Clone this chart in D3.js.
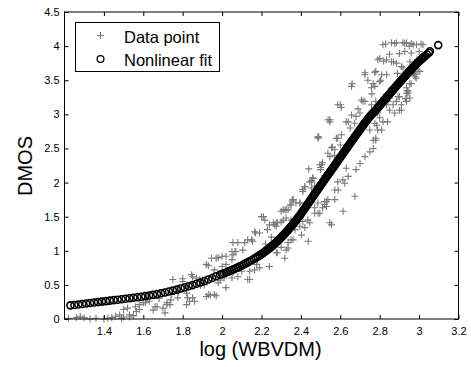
<!DOCTYPE html>
<html>
<head>
<meta charset="utf-8">
<script src="https://cdn.jsdelivr.net/npm/d3@7"></script>
<style>
  html, body { margin: 0; padding: 0; background: #fff; }
  svg { display: block; }
  text { font-family: "Liberation Sans", Arial, sans-serif; fill: #000; }
</style>
</head>
<body>
<svg id="chart" width="471" height="367"></svg>
<script>
// ---------- data ----------
const xTicks = [1.4, 1.6, 1.8, 2, 2.2, 2.4, 2.6, 2.8, 3, 3.2];
const yTicks = [0, 0.5, 1, 1.5, 2, 2.5, 3, 3.5, 4, 4.5];
const xLabel = "log (WBVDM)";
const yLabel = "DMOS";
const legendLabels = ["Data point", "Nonlinear fit"];

// Data points [log(WBVDM), DMOS]
const dataPoints = [
  [1.22,0.01],[1.26,0.02],[1.28,0.04],[1.30,0.02],[1.33,0.00],[1.36,0.01],[1.40,0.00],[1.42,0.01],
  [1.44,0.02],[1.46,0.04],[1.49,0.01],[1.50,0.03],[1.53,0.03],[1.55,0.05],[1.48,0.06],[1.50,0.14],
  [1.52,0.16],[1.53,0.06],[1.56,0.18],[1.565,0.11],[1.58,0.14],[1.58,0.21],[1.60,0.24],[1.61,0.24],
  [1.63,0.26],[1.65,0.13],[1.66,0.18],[1.67,0.18],[1.70,0.16],[1.71,0.09],[1.72,0.21],[1.72,0.24],
  [1.735,0.21],[1.74,0.28],[1.745,0.36],[1.75,0.58],[1.775,0.31],[1.80,0.59],[1.80,0.55],[1.82,0.48],
  [1.82,0.38],[1.825,0.31],[1.82,0.21],[1.835,0.26],[1.845,0.65],[1.85,0.62],[1.85,0.31],[1.86,0.26],
  [1.87,0.60],[1.887,0.58],[1.89,0.49],[1.91,0.50],[1.92,0.33],[1.93,0.36],[1.92,0.80],[1.93,0.78],
  [1.94,0.35],[1.946,0.89],[1.96,0.72],[1.96,0.36],[1.97,0.89],[1.97,0.34],[1.98,0.90],[1.98,0.53],
  [1.99,0.57],[2.00,0.92],[2.00,0.77],[2.01,0.60],[2.02,0.80],[2.02,0.92],[2.02,0.46],[2.05,0.87],
  [2.05,0.99],[2.055,1.12],[2.055,0.94],[2.05,0.60],[2.055,0.68],[2.065,0.99],[2.07,0.99],[2.08,1.12],
  [2.08,0.62],[2.10,0.70],[2.105,1.01],[2.115,1.12],[2.13,1.16],[2.13,0.58],[2.14,0.70],[2.14,0.58],
  [2.15,1.16],[2.155,1.14],[2.165,1.28],[2.165,0.72],[2.17,1.26],[2.175,0.80],[2.18,0.87],[2.19,1.26],
  [2.19,0.75],[2.20,1.50],[2.21,1.50],[2.217,1.45],[2.23,1.31],[2.24,1.38],[2.24,0.77],[2.26,1.41],
  [2.267,1.38],[2.275,1.41],[2.275,1.36],[2.275,0.97],[2.28,1.41],[2.28,0.97],[2.30,1.05],[2.31,1.60],
  [2.31,1.45],[2.318,0.89],[2.32,1.60],[2.325,1.01],[2.325,1.48],[2.335,1.60],[2.335,1.12],[2.335,1.04],
  [2.345,1.67],[2.35,1.16],[2.35,1.67],[2.36,1.75],[2.36,1.16],[2.37,1.31],[2.375,1.70],[2.395,1.70],
  [2.395,1.36],[2.403,1.23],[2.41,1.87],[2.41,1.43],[2.42,1.94],[2.42,1.34],[2.435,1.45],[2.437,1.14],
  [2.445,1.41],[2.445,2.01],[2.454,2.01],[2.454,1.92],[2.46,2.07],[2.47,1.63],[2.47,1.55],[2.486,2.67],
  [2.486,1.70],[2.49,2.67],[2.496,2.26],[2.496,1.55],[2.50,2.19],[2.51,2.29],[2.51,1.63],[2.52,1.72],
  [2.53,1.72],[2.537,2.43],[2.537,1.75],[2.547,2.89],[2.547,2.92],[2.547,1.41],[2.555,2.51],[2.555,1.38],
  [2.572,1.89],[2.58,2.65],[2.587,2.01],[2.587,3.14],[2.587,2.65],[2.60,3.14],[2.606,2.70],[2.613,2.04],
  [2.614,1.58],[2.63,2.21],[2.63,2.89],[2.64,2.89],[2.657,3.41],[2.657,2.99],[2.673,2.87],[2.674,1.80],
  [2.68,2.97],[2.70,3.02],[2.707,3.21],[2.715,3.19],[2.725,3.19],[2.725,3.61],[2.725,3.58],[2.75,2.77],
  [2.758,3.39],[2.758,3.14],[2.767,2.62],[2.767,3.45],[2.775,3.41],[2.775,3.61],[2.775,2.87],[2.78,3.63],
  [2.78,3.19],[2.78,2.65],[2.785,2.84],[2.79,3.80],[2.79,3.02],[2.80,3.48],[2.80,3.82],[2.80,2.95],
  [2.805,3.50],[2.81,3.58],[2.81,2.77],[2.816,4.02],[2.83,4.03],[2.835,3.80],[2.835,3.58],[2.835,3.14],
  [2.84,2.89],[2.85,3.06],[2.85,3.24],[2.86,4.05],[2.86,3.77],[2.868,3.14],[2.87,3.77],[2.876,3.02],
  [2.876,4.04],[2.885,4.05],[2.885,3.75],[2.885,3.19],[2.90,3.89],[2.90,3.06],[2.90,3.26],[2.91,3.14],
  [2.918,4.05],[2.918,3.68],[2.927,3.92],[2.927,4.04],[2.936,4.05],[2.936,3.39],[2.943,3.31],[2.944,3.33],
  [2.953,3.24],[2.953,3.45],[2.953,3.77],[2.97,4.02],[2.97,3.60],[2.978,3.58],[2.985,3.53],[2.987,4.02],
  [2.995,3.63],[3.004,3.63],[3.02,4.02],[3.01,4.03],[2.96,4.04],[2.95,4.00],[2.80,3.11],[2.843,3.19],
  [2.893,3.26],[2.91,3.06],[2.817,2.89],[2.79,2.77],[2.78,2.62],[2.767,2.50],[2.75,2.45],[2.725,2.38],
  [2.70,2.28],[2.68,2.19],[2.64,2.09],[2.623,1.99],[2.589,1.89],[2.572,1.75],[2.53,1.65],[2.52,1.68],
  [2.487,1.55],[2.572,2.48],[2.547,2.38],[2.56,2.52],[2.505,2.26],[2.50,2.22],[2.462,2.06],[2.455,2.03],
  [2.42,1.94],[2.41,1.90],[2.36,1.75],[2.355,1.73],[2.395,1.70],[2.325,1.60],[2.30,1.58],[2.97,3.60],
  [2.975,3.62],[2.98,3.55],[2.96,3.45],[2.936,3.31],[2.94,3.35],[2.936,3.19],[2.93,3.23],[2.66,3.45],
  [2.605,3.10],[2.538,2.92],[2.487,2.65],[2.44,2.20],[2.30,1.42],[2.25,1.20],[2.22,1.10],[2.18,0.95],
  [2.12,0.80],[2.09,0.76],[2.03,0.70],[1.95,0.62],[1.90,0.57],[1.78,0.40],[1.68,0.30],[1.62,0.30],
  [2.86,3.38],[2.84,3.30],[2.82,3.25],[2.70,2.80],[2.72,2.90],[2.66,2.65],[2.62,2.45],[2.58,2.30],
  [2.55,2.15],[2.48,1.90],[2.45,1.80],[2.40,1.50],[2.35,1.45],[2.27,1.15],[2.24,1.05],[2.89,3.60],
  [2.91,3.70],[2.93,3.60],[2.99,3.80],[3.00,3.92],[2.96,3.90],[2.85,3.88],[2.82,3.78],[2.74,3.50],
  [2.76,3.30],[2.69,3.08],[2.65,2.80],[2.60,2.55],[2.57,2.40],[2.52,2.10],[2.47,1.95]
];

// Nonlinear fit points [log(WBVDM), predicted DMOS]
const fitPoints = [
  [1.23,0.200],[1.25,0.206],[1.27,0.213],[1.29,0.220],[1.31,0.227],[1.33,0.234],[1.35,0.241],[1.37,0.248],
  [1.39,0.255],[1.41,0.262],[1.43,0.269],[1.45,0.276],[1.47,0.283],[1.49,0.290],[1.51,0.297],[1.53,0.304],
  [1.55,0.311],[1.57,0.319],[1.59,0.327],[1.61,0.335],[1.63,0.344],[1.65,0.354],[1.67,0.365],[1.69,0.377],
  [1.71,0.389],[1.73,0.402],[1.75,0.416],[1.77,0.431],[1.79,0.446],[1.81,0.462],[1.83,0.479],[1.85,0.497],
  [1.87,0.516],[1.89,0.536],[1.91,0.557],[1.93,0.579],[1.95,0.602],[1.97,0.626],[1.99,0.650],
  [2.00,0.660],[2.01,0.671],[2.02,0.682],[2.03,0.694],[2.04,0.706],[2.05,0.718],[2.06,0.731],[2.07,0.744],
  [2.08,0.757],[2.09,0.771],[2.10,0.785],[2.11,0.800],[2.12,0.815],[2.13,0.830],[2.14,0.846],[2.15,0.862],
  [2.16,0.879],[2.17,0.896],[2.18,0.914],[2.19,0.932],[2.20,0.951],[2.21,0.971],[2.22,0.992],[2.23,1.014],
  [2.24,1.037],[2.25,1.061],[2.26,1.086],[2.27,1.112],[2.28,1.139],[2.29,1.167],[2.30,1.196],[2.31,1.226],
  [2.32,1.257],[2.33,1.289],[2.34,1.322],[2.35,1.356],[2.36,1.391],[2.37,1.427],[2.38,1.464],[2.39,1.502],
  [2.40,1.541],[2.41,1.582],[2.42,1.623],[2.43,1.665],[2.44,1.707],[2.45,1.749],[2.46,1.791],[2.47,1.833],
  [2.48,1.875],[2.49,1.917],[2.50,1.959],[2.51,2.001],[2.52,2.042],[2.53,2.083],[2.54,2.124],[2.55,2.165],
  [2.56,2.206],[2.57,2.247],[2.58,2.288],[2.59,2.329],[2.60,2.370],[2.61,2.411],[2.62,2.452],[2.63,2.493],
  [2.64,2.534],[2.65,2.575],[2.66,2.616],[2.67,2.656],[2.68,2.696],[2.69,2.736],[2.70,2.776],[2.71,2.815],
  [2.72,2.854],[2.73,2.893],[2.74,2.931],[2.75,2.969],[2.76,3.000],[2.77,3.030],[2.78,3.060],[2.79,3.094],
  [2.80,3.128],[2.81,3.162],[2.82,3.196],[2.83,3.230],[2.84,3.264],[2.85,3.298],[2.86,3.332],[2.87,3.366],
  [2.88,3.400],[2.89,3.434],[2.90,3.467],[2.91,3.500],[2.92,3.532],[2.93,3.564],[2.94,3.596],[2.95,3.628],
  [2.96,3.659],[2.97,3.690],[2.98,3.720],[2.99,3.749],[3.00,3.777],[3.01,3.804],[3.02,3.830],[3.03,3.855],
  [3.04,3.879],[3.05,3.902],[3.055,3.925],[3.097,4.015],
  [2.205,0.961],[2.215,0.981],[2.225,1.003],[2.235,1.025],[2.245,1.049],[2.255,1.073],[2.265,1.099],
  [2.275,1.125],[2.285,1.153],[2.295,1.181],[2.305,1.211],[2.315,1.241],[2.325,1.273],[2.335,1.305],
  [2.345,1.339],[2.355,1.373],[2.365,1.409],[2.375,1.445],[2.385,1.483],[2.395,1.521],[2.405,1.561],
  [2.415,1.602],[2.425,1.644],[2.435,1.686],[2.445,1.728],[2.455,1.770],[2.465,1.812],[2.475,1.854],
  [2.485,1.896],[2.495,1.938],[2.505,1.980],[2.515,2.021],[2.525,2.062],[2.535,2.103],[2.545,2.144],
  [2.555,2.185],[2.565,2.226],[2.575,2.267],[2.585,2.308],[2.595,2.349],[2.605,2.390],[2.615,2.431],
  [2.625,2.472],[2.635,2.513],[2.645,2.554],[2.655,2.595],[2.665,2.636],[2.675,2.676],[2.685,2.716],
  [2.695,2.756],[2.705,2.795],[2.715,2.834],[2.725,2.873],[2.735,2.912],[2.745,2.950],[2.755,2.985],
  [2.765,3.015],[2.775,3.045],[2.785,3.077],[2.795,3.111],[2.805,3.145],[2.815,3.179],[2.825,3.213],
  [2.835,3.247],[2.845,3.281],[2.855,3.315],[2.865,3.349],[2.875,3.383],[2.885,3.417],[2.895,3.450],
  [2.905,3.483],[2.915,3.516],[2.925,3.548],[2.935,3.580],[2.945,3.612],[2.955,3.643],[2.965,3.674],
  [2.975,3.705],[2.985,3.735],[2.995,3.763],[3.005,3.790],[3.015,3.817],[3.025,3.842]
];

// ---------- layout ----------
const svg = d3.select("#chart");
const margin = { left: 64.5, top: 12, right: 12.5, bottom: 48 };
const W = 471, H = 367;
const iw = W - margin.left - margin.right;
const ih = H - margin.top - margin.bottom;

const x = d3.scaleLinear().domain([1.2, 3.2]).range([0, iw]);
const y = d3.scaleLinear().domain([0, 4.5]).range([ih, 0]);

const g = svg.append("g").attr("transform", `translate(${margin.left},${margin.top})`);

svg.append("defs").append("clipPath").attr("id", "clip")
  .append("rect").attr("x", -4).attr("y", -4).attr("width", iw + 8).attr("height", ih + 8);

const plot = g.append("g").attr("clip-path", "url(#clip)");

const plusPath = "M-3.5,0H3.5M0,-3.5V3.5";

plot.selectAll("path.pt").data(dataPoints).enter().append("path")
  .attr("class", "pt")
  .attr("d", plusPath)
  .attr("transform", d => `translate(${x(d[0])},${y(d[1])})`)
  .attr("stroke", "#7a7a7a").attr("stroke-width", 1.1).attr("fill", "none");

plot.selectAll("circle.fit").data(fitPoints).enter().append("circle")
  .attr("class", "fit")
  .attr("cx", d => x(d[0])).attr("cy", d => y(d[1])).attr("r", 3.5)
  .attr("fill", "none").attr("stroke", "#000").attr("stroke-width", 1.6);

// axes (MATLAB-style inward ticks, box)
const tickLen = 4;
const fmt = d => String(d);
const xAxisB = d3.axisBottom(x).tickValues(xTicks).tickSize(-tickLen).tickPadding(8).tickFormat(fmt);
const xAxisT = d3.axisTop(x).tickValues(xTicks).tickSize(-tickLen).tickFormat("");
const yAxisL = d3.axisLeft(y).tickValues(yTicks).tickSize(-tickLen).tickPadding(5).tickFormat(fmt);
const yAxisR = d3.axisRight(y).tickValues(yTicks).tickSize(-tickLen).tickFormat("");

function style(sel) {
  sel.select(".domain").attr("stroke", "#000").attr("stroke-width", 1);
  sel.selectAll(".tick line").attr("stroke", "#000");
  sel.selectAll(".tick text").attr("font-size", "11px")
    .attr("font-family", "Liberation Sans, Arial, sans-serif").attr("fill", "#000");
}
g.append("g").attr("transform", `translate(0,${ih})`).call(xAxisB).call(style);
g.append("g").call(xAxisT).call(style);
g.append("g").call(yAxisL).call(style);
g.append("g").attr("transform", `translate(${iw},0)`).call(yAxisR).call(style);
g.selectAll(".domain").attr("d", null);
g.append("rect").attr("x", 0).attr("y", 0).attr("width", iw).attr("height", ih)
  .attr("fill", "none").attr("stroke", "#000").attr("stroke-width", 1);

// axis titles
svg.append("text").attr("x", margin.left + iw / 2 - 1).attr("y", 356)
  .attr("text-anchor", "middle").attr("font-size", "20px").text(xLabel);
svg.append("text").attr("transform", "translate(32,166) rotate(-90)")
  .attr("text-anchor", "middle").attr("font-size", "20px").text(yLabel);

// legend
const lg = svg.append("g").attr("transform", "translate(75.5,22.5)");
lg.append("rect").attr("width", 144).attr("height", 49)
  .attr("fill", "#fff").attr("stroke", "#000").attr("stroke-width", 1);
lg.append("path").attr("d", plusPath).attr("transform", "translate(25,13)")
  .attr("stroke", "#7a7a7a").attr("stroke-width", 1.1).attr("fill", "none");
lg.append("circle").attr("cx", 25).attr("cy", 36.5).attr("r", 3.4)
  .attr("fill", "none").attr("stroke", "#000").attr("stroke-width", 1.3);
lg.selectAll("text.lt").data(legendLabels).enter().append("text")
  .attr("class", "lt")
  .attr("x", 48.5).attr("y", (d, i) => 20.5 + i * 22.5)
  .attr("font-size", "16.5px").text(d => d);
</script>
</body>
</html>
